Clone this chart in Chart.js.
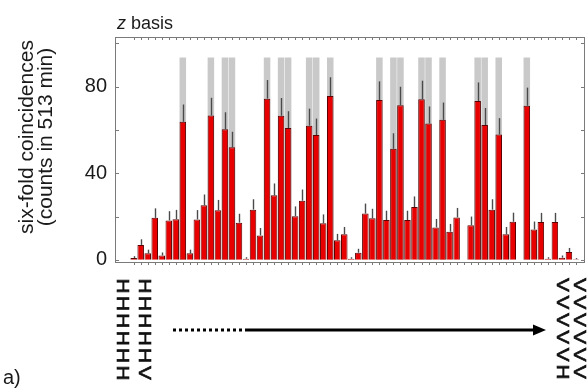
<!DOCTYPE html>
<html>
<head>
<meta charset="utf-8">
<script src="https://cdn.jsdelivr.net/npm/chart.js@4.4.1/dist/chart.umd.min.js"></script>
<style>
html,body{margin:0;padding:0;background:#fff;}
#wrap{width:588px;height:389px;position:relative;}
</style>
</head>
<body>
<div id="wrap"><canvas id="c" width="588" height="389"></canvas></div>
<script>
// measured six-fold coincidences (counts in 513 min), 64 basis states HHHHHH ... VVVVVV
const counts = [0.8, 6.9, 3, 19.4, 2, 18.2, 18.8, 63.8, 3, 18.7, 25.2, 66.7, 22.9, 60.4, 52, 17.2,
                0.5, 23.2, 11.3, 74.5, 29.8, 66.6, 60.9, 20.2, 27.3, 62, 57.7, 16.9, 75.7, 9, 11.8, 0.5,
                3.3, 21.4, 19.2, 73.9, 18.4, 51.3, 71.5, 18.4, 24.4, 74.2, 63, 15, 64.7, 13, 19.6, 0,
                16, 73.4, 62.3, 23.2, 57.9, 11.8, 17.6, 0, 71.2, 14, 17.5, 0.5, 17.5, 1, 3.6, 0.3];
// statistical errors
const errors = [0.9, 2.6, 1.7, 4.4, 1.4, 4.3, 4.3, 8, 1.7, 4.3, 5, 8.2, 4.8, 7.8, 7.2, 4.1,
                0.7, 4.8, 3.4, 8.6, 5.5, 8.2, 7.8, 4.5, 5.2, 7.9, 7.6, 4.1, 8.7, 3, 3.4, 0.7,
                1.8, 4.6, 4.4, 8.6, 4.3, 7.2, 8.5, 4.3, 4.9, 8.6, 7.9, 3.9, 8, 3.6, 4.4, 0,
                4, 8.6, 7.9, 4.8, 7.6, 3.4, 4.2, 0, 8.4, 3.7, 4.2, 0.7, 4.2, 1, 1.9, 0.5];
// theoretical prediction (grey bars)
const theory = [0, 0, 0, 0, 0, 0, 0, 93.5, 0, 0, 0, 93.5, 0, 93.5, 93.5, 0,
                0, 0, 0, 93.5, 0, 93.5, 93.5, 0, 0, 93.5, 93.5, 0, 93.5, 0, 0, 0,
                0, 0, 0, 93.5, 0, 93.5, 93.5, 0, 0, 93.5, 93.5, 0, 93.5, 0, 0, 0,
                0, 93.5, 93.5, 0, 93.5, 0, 0, 0, 93.5, 0, 0, 0, 0, 0, 0, 0];
const categories = [];
for (let i = 0; i < 64; i++) categories.push(i.toString(2).padStart(6, '0').replace(/0/g, 'H').replace(/1/g, 'V'));
const yTicks = [0, 40, 80];
const yTitle = ['six-fold coincidences', '(counts in 513 min)'];
const panelTitle = ['z', ' basis'];
const panelLabel = 'a)';

const FONT = '"Liberation Sans", Arial, sans-serif';

const deco = {
  id: 'deco',
  afterDatasetsDraw(chart) {
    const ctx = chart.ctx, xs = chart.scales.x, ys = chart.scales.y;
    ctx.save();
    ctx.strokeStyle = '#4a4a4a';
    ctx.lineWidth = 1.4;
    counts.forEach((v, i) => {
      if (errors[i] <= 0) return;
      const x = Math.round(xs.getPixelForValue(i)) + 0.5;
      ctx.beginPath();
      ctx.moveTo(x, ys.getPixelForValue(v));
      ctx.lineTo(x, ys.getPixelForValue(v + errors[i]));
      ctx.stroke();
    });
    ctx.restore();
  },
  afterDraw(chart) {
    const ctx = chart.ctx, a = chart.chartArea, xs = chart.scales.x, ys = chart.scales.y;
    ctx.save();
    // frame
    ctx.strokeStyle = '#7a7a7a';
    ctx.lineWidth = 1;
    ctx.strokeRect(Math.round(a.left) + 0.5, Math.round(a.top) + 0.5, Math.round(a.right - a.left) - 1, Math.round(a.bottom - a.top));
    // inner ticks
    ctx.beginPath();
    for (let v = 0; v <= 100; v += 20) {
      const y = Math.round(ys.getPixelForValue(v)) + 0.5;
      ctx.moveTo(a.left, y); ctx.lineTo(a.left + 4, y);
      ctx.moveTo(a.right, y); ctx.lineTo(a.right - 4, y);
    }
    for (let i = 0; i < 64; i++) {
      const x = Math.round(xs.getPixelForValue(i)) + 0.5;
      ctx.moveTo(x, a.top); ctx.lineTo(x, a.top + 3);
      ctx.moveTo(x, a.bottom); ctx.lineTo(x, a.bottom + 3);
    }
    ctx.stroke();

    ctx.fillStyle = '#1a1a1a';
    // y title
    ctx.save();
    ctx.translate(27, 137);
    ctx.rotate(-Math.PI / 2);
    ctx.font = '21px ' + FONT;
    ctx.textAlign = 'center';
    ctx.textBaseline = 'middle';
    ctx.fillText(yTitle[0], 0, 0);
    ctx.fillText(yTitle[1], 0, 19);
    ctx.restore();

    // panel title
    ctx.textBaseline = 'alphabetic';
    ctx.textAlign = 'left';
    ctx.font = 'italic 18px ' + FONT;
    ctx.fillText(panelTitle[0], a.left + 2, 29);
    const zw = ctx.measureText(panelTitle[0]).width;
    ctx.font = '18px ' + FONT;
    ctx.fillText(panelTitle[1], a.left + 2 + zw, 29);

    // panel label
    ctx.font = '20px ' + FONT;
    ctx.fillText(panelLabel, 3, 384);

    // basis labels (rotated clockwise)
    const drawCol = (str, cx, y0) => {
      ctx.font = '17px ' + FONT;
      ctx.textAlign = 'center';
      ctx.textBaseline = 'middle';
      ctx.fillStyle = '#111';
      ctx.strokeStyle = '#111';
      ctx.lineWidth = 0.6;
      for (let k = 0; k < str.length; k++) {
        ctx.save();
        ctx.translate(cx, y0 + k * 17.4);
        ctx.rotate(Math.PI / 2);
        ctx.scale(1.22, 1);
        ctx.fillText(str[k], 0, 1);
        ctx.strokeText(str[k], 0, 1);
        ctx.restore();
      }
    };
    const x0 = xs.getPixelForValue(0), x63 = xs.getPixelForValue(63);
    drawCol(categories[0], x0 - 11, 286);
    drawCol(categories[1], x0 + 11, 286);
    drawCol(categories[62], x63 - 13.5, 285);
    drawCol(categories[63], x63 + 4, 285);

    // arrow
    const ay = 330;
    ctx.fillStyle = '#000';
    for (let x = 173; x < 243; x += 6) ctx.fillRect(x, ay - 1.5, 3, 3);
    ctx.fillRect(245, ay - 1.5, 290, 3);
    ctx.beginPath();
    ctx.moveTo(546, ay);
    ctx.lineTo(533, ay - 5.5);
    ctx.lineTo(533, ay + 5.5);
    ctx.closePath();
    ctx.fill();
    ctx.restore();
  }
};

new Chart(document.getElementById('c'), {
  type: 'bar',
  data: {
    labels: categories,
    datasets: [
      {
        label: 'measured',
        data: counts.map((v, i) => ({ x: i, y: v })),
        backgroundColor: '#e80000',
        borderColor: '#5c0000',
        borderWidth: 1,
        barPercentage: 0.93,
        categoryPercentage: 1,
        order: 0
      },
      {
        label: 'theory',
        data: theory.map((v, i) => ({ x: i, y: v })),
        backgroundColor: '#c9c9c9',
        borderWidth: 0,
        barPercentage: 0.93,
        categoryPercentage: 1,
        order: 1
      }
    ]
  },
  options: {
    responsive: false,
    animation: false,
    devicePixelRatio: 1,
    grouped: false,
    layout: { padding: { top: 37, right: 3, left: 0, bottom: 0 } },
    plugins: { legend: { display: false }, tooltip: { enabled: false } },
    scales: {
      x: {
        type: 'linear',
        min: -2.66,
        max: 64.29,
        offset: false,
        grid: { display: false, drawTicks: false },
        border: { display: false },
        ticks: { display: false },
        afterFit(s) { s.height = 127; }
      },
      y: {
        min: -1,
        max: 103,
        grid: { display: false, drawTicks: false },
        border: { display: false },
        afterBuildTicks(s) { s.ticks = yTicks.map(v => ({ value: v })); },
        ticks: {
          padding: 8,
          color: '#1a1a1a',
          font: { family: FONT, size: 20 }
        },
        afterFit(s) { s.width = 115; }
      }
    }
  },
  plugins: [deco]
});
</script>
</body>
</html>
